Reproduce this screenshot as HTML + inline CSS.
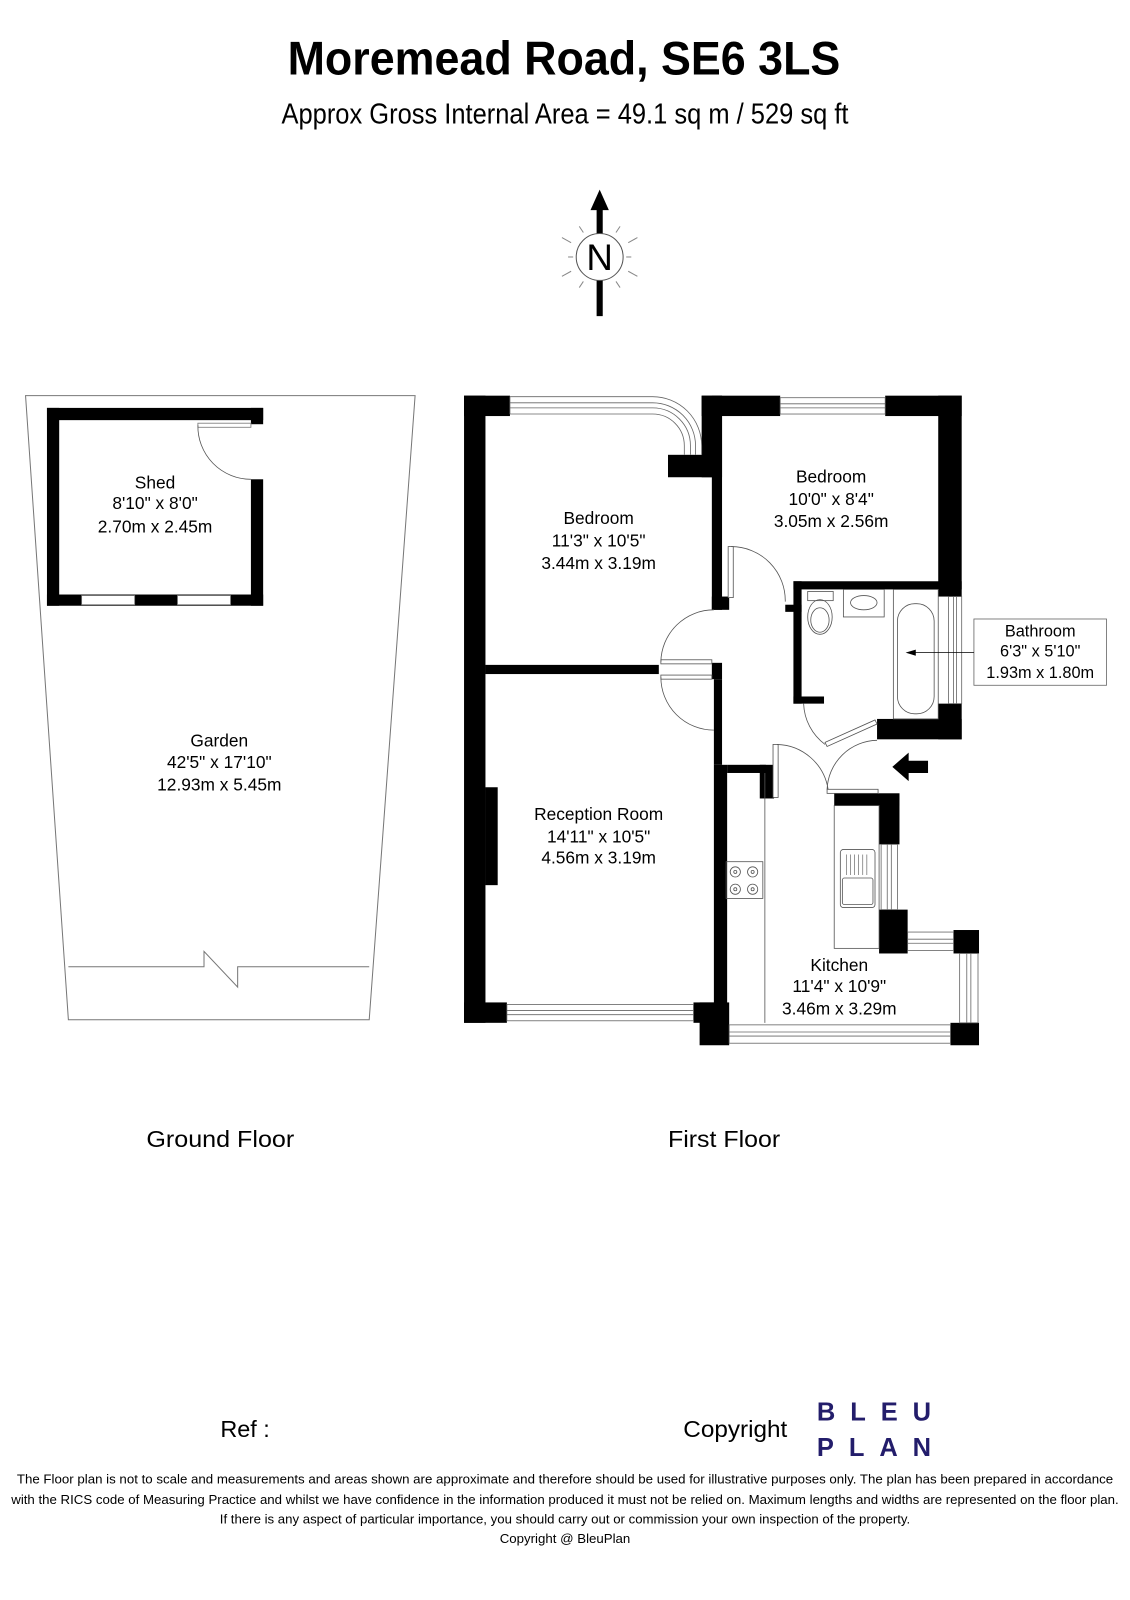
<!DOCTYPE html>
<html><head><meta charset="utf-8"><style>
html,body{margin:0;padding:0;background:#fff}
svg{display:block}
text{font-family:"Liberation Sans",Arial,sans-serif;fill:#000}
</style></head><body>
<svg width="1130" height="1600" viewBox="0 0 1108 1569" xmlns="http://www.w3.org/2000/svg">
<rect x="0" y="0" width="1108" height="1569" fill="#fff"/>
<text x="553" y="73" font-size="46" font-weight="bold" text-anchor="middle" textLength="542" lengthAdjust="spacingAndGlyphs">Moremead Road, SE6 3LS</text>
<text x="554" y="121" font-size="28" text-anchor="middle" textLength="556" lengthAdjust="spacingAndGlyphs">Approx Gross Internal Area = 49.1 sq m / 529 sq ft</text>

<!-- compass -->
<g>
<line x1="588" y1="205" x2="588" y2="232" stroke="#000" stroke-width="6"/>
<polygon points="588,186 579,206 597,206" fill="#000"/>
<line x1="588" y1="273" x2="588" y2="310" stroke="#000" stroke-width="6"/>
<circle cx="588" cy="252" r="23" fill="#fff" stroke="#555" stroke-width="1"/>
<g stroke="#888" stroke-width="1">
<line x1="557" y1="252" x2="562" y2="252"/><line x1="614" y1="252" x2="619" y2="252"/>
<line x1="560" y1="238" x2="551" y2="233"/><line x1="616" y1="238" x2="625" y2="233"/>
<line x1="560" y1="266" x2="551" y2="271"/><line x1="616" y1="266" x2="625" y2="271"/>
<line x1="572" y1="228" x2="568" y2="222"/><line x1="604" y1="228" x2="608" y2="222"/>
<line x1="572" y1="276" x2="568" y2="282"/><line x1="604" y1="276" x2="608" y2="282"/>
</g>
<text x="588" y="265" font-size="36" text-anchor="middle">N</text>
</g>

<!-- Garden -->
<polygon points="25,388 407,388 362,1000 67,1000" fill="none" stroke="#777" stroke-width="1"/>
<polyline points="67,948 200,948 200,933 233,968 233,948 362,948" fill="none" stroke="#777" stroke-width="1"/>
<!-- Shed -->
<g fill="#000">
<rect x="46" y="400" width="212" height="12"/>
<rect x="46" y="400" width="12" height="194"/>
<rect x="46" y="583" width="212" height="11"/>
<rect x="246" y="400" width="12" height="16"/>
<rect x="246" y="470" width="12" height="124"/>
</g>
<g fill="#fff" stroke="#777" stroke-width="0.8">
<rect x="80" y="584" width="52" height="9"/>
<rect x="174" y="584" width="52" height="9"/>
<rect x="194" y="415" width="52" height="4"/>
</g>
<path d="M194,417 A52,52 0 0 0 246,470" fill="none" stroke="#555" stroke-width="0.8"/>
<text x="152" y="479" font-size="17" text-anchor="middle">Shed</text>
<text x="152" y="499" font-size="17" text-anchor="middle">8'10" x 8'0"</text>
<text x="152" y="522" font-size="17" text-anchor="middle">2.70m x 2.45m</text>
<text x="215" y="732" font-size="17" text-anchor="middle">Garden</text>
<text x="215" y="753" font-size="17" text-anchor="middle">42'5" x 17'10"</text>
<text x="215" y="775" font-size="17" text-anchor="middle">12.93m x 5.45m</text>

<!-- First floor walls -->
<g fill="#000">
<rect x="455" y="388" width="21" height="615"/>
<rect x="455" y="388" width="45" height="20"/>
<rect x="655" y="446" width="45" height="22"/>
<rect x="688" y="388" width="77" height="20"/>
<rect x="688" y="388" width="20" height="80"/>
<rect x="698" y="388" width="10" height="210"/>
<rect x="698" y="585" width="17" height="13"/>
<rect x="868" y="388" width="75" height="20"/>
<rect x="920" y="388" width="23" height="197"/>
<rect x="778" y="570" width="165" height="8"/>
<rect x="778" y="570" width="8" height="120"/>
<rect x="770" y="593" width="16" height="7"/>
<rect x="778" y="683" width="30" height="7"/>
<rect x="920" y="690" width="23" height="35"/>
<rect x="860" y="705" width="83" height="20"/>
<rect x="476" y="652" width="170" height="9"/>
<rect x="698" y="650" width="10" height="16"/>
<rect x="700" y="666" width="8" height="84"/>
<rect x="700" y="750" width="13" height="253"/>
<rect x="713" y="750" width="38" height="8"/>
<rect x="745" y="750" width="14" height="33"/>
<rect x="476" y="772" width="12" height="96"/>
<rect x="455" y="983" width="42" height="20"/>
<rect x="680" y="983" width="28" height="20"/>
<rect x="686" y="983" width="29" height="42"/>
<rect x="932" y="1003" width="28" height="22"/>
<rect x="818" y="778" width="64" height="12"/>
<rect x="862" y="778" width="20" height="50"/>
<rect x="862" y="892" width="28" height="43"/>
<rect x="935" y="912" width="25" height="23"/>
</g>
<!-- windows -->
<g fill="#fff" stroke="#666" stroke-width="0.8">
<rect x="765" y="390" width="103" height="16"/>
<rect x="497" y="985" width="183" height="16"/>
<rect x="715" y="1005" width="217" height="18"/>
<rect x="930" y="585" width="13" height="105"/>
<rect x="864" y="828" width="16" height="64"/>
<rect x="890" y="914" width="45" height="18"/>
<rect x="941" y="935" width="18" height="68"/>
</g>
<g stroke="#666" stroke-width="0.8" fill="none">
<line x1="765" y1="396" x2="868" y2="396"/><line x1="765" y1="400" x2="868" y2="400"/>
<line x1="497" y1="991" x2="680" y2="991"/><line x1="497" y1="995" x2="680" y2="995"/>
<line x1="715" y1="1012" x2="932" y2="1012"/><line x1="715" y1="1016" x2="932" y2="1016"/>
<line x1="935" y1="585" x2="935" y2="690"/><line x1="938" y1="585" x2="938" y2="690"/>
<line x1="870" y1="828" x2="870" y2="892"/><line x1="874" y1="828" x2="874" y2="892"/>
<line x1="890" y1="921" x2="935" y2="921"/><line x1="890" y1="925" x2="935" y2="925"/>
<line x1="948" y1="935" x2="948" y2="1003"/><line x1="952" y1="935" x2="952" y2="1003"/>
<path d="M500,389 H640 A48,48 0 0 1 688,437 V446"/>
<path d="M500,395 H640 A42,42 0 0 1 682,437 V446"/>
<path d="M500,400 H640 A37,37 0 0 1 677,437 V446"/>
<path d="M500,406 H640 A31,31 0 0 1 671,437 V446"/>
<line x1="500" y1="389" x2="500" y2="406"/>
</g>
<!-- doors -->
<g fill="#fff" stroke="#555" stroke-width="0.8">
<rect x="648" y="647" width="50" height="4"/>
<rect x="648" y="662" width="50" height="4"/>
<rect x="714" y="536" width="5" height="50"/>
<rect x="758" y="730" width="5" height="52"/>
<polygon points="809,728 858,706 860,710 811,732"/>
<rect x="811" y="774" width="50" height="4"/>
</g>
<g fill="none" stroke="#555" stroke-width="0.8">
<path d="M648,649 A52,52 0 0 1 700,598"/>
<path d="M648,664 A52,52 0 0 0 700,716"/>
<path d="M717,536 A53,53 0 0 1 770,590"/>
<path d="M762,730 A52,52 0 0 1 812,774"/>
<path d="M811,774 A50,50 0 0 1 860,726"/>
<path d="M809,730 A52,52 0 0 1 788,690"/>
</g>
<polygon points="875,752 891,738 891,746 910,746 910,758 891,758 891,766" fill="#000"/>
<!-- bathroom fixtures -->
<g fill="none" stroke="#555" stroke-width="0.8">
<rect x="876" y="578" width="44" height="127"/>
<rect x="880" y="592" width="36" height="108" rx="17"/>
<rect x="827" y="578" width="40" height="27"/>
<ellipse cx="847" cy="591" rx="13" ry="7"/>
<rect x="792" y="580" width="25" height="9"/>
<ellipse cx="804" cy="605" rx="12" ry="17"/>
<ellipse cx="804" cy="608" rx="9" ry="12"/>
<line x1="750" y1="758" x2="750" y2="1003"/>
<rect x="818" y="790" width="44" height="140"/>
<rect x="824" y="833" width="34" height="57" rx="3"/>
<rect x="826" y="861" width="30" height="26" rx="2"/>
<rect x="712" y="845" width="36" height="36"/>
<circle cx="721" cy="855" r="5"/><circle cx="738" cy="855" r="5"/>
<circle cx="721" cy="872" r="5"/><circle cx="738" cy="872" r="5"/>
<circle cx="721" cy="855" r="1.5"/><circle cx="738" cy="855" r="1.5"/>
<circle cx="721" cy="872" r="1.5"/><circle cx="738" cy="872" r="1.5"/>
</g>
<g stroke="#555" stroke-width="0.6">
<line x1="830" y1="838" x2="830" y2="858"/><line x1="834" y1="838" x2="834" y2="858"/>
<line x1="838" y1="838" x2="838" y2="858"/><line x1="842" y1="838" x2="842" y2="858"/>
<line x1="846" y1="838" x2="846" y2="858"/><line x1="850" y1="838" x2="850" y2="858"/>
</g>
<rect x="955" y="607" width="130" height="65" fill="#fff" stroke="#666" stroke-width="0.8"/>
<line x1="896" y1="640" x2="955" y2="640" stroke="#000" stroke-width="0.8"/>
<polygon points="888,640 898,637 898,643" fill="#000"/>
<text x="1020" y="624" font-size="16" text-anchor="middle">Bathroom</text>
<text x="1020" y="644" font-size="16" text-anchor="middle">6'3" x 5'10"</text>
<text x="1020" y="665" font-size="16" text-anchor="middle">1.93m x 1.80m</text>

<g font-size="17" text-anchor="middle">
<text x="587" y="514">Bedroom</text>
<text x="587" y="536">11'3" x 10'5"</text>
<text x="587" y="558">3.44m x 3.19m</text>
<text x="815" y="473">Bedroom</text>
<text x="815" y="495">10'0" x 8'4"</text>
<text x="815" y="517">3.05m x 2.56m</text>
<text x="587" y="804">Reception Room</text>
<text x="587" y="826">14'11" x 10'5"</text>
<text x="587" y="847">4.56m x 3.19m</text>
<text x="823" y="952">Kitchen</text>
<text x="823" y="973">11'4" x 10'9"</text>
<text x="823" y="995">3.46m x 3.29m</text>
</g>

<text x="216" y="1125" font-size="23" text-anchor="middle" textLength="145" lengthAdjust="spacingAndGlyphs">Ground Floor</text>
<text x="710" y="1125" font-size="23" text-anchor="middle" textLength="110" lengthAdjust="spacingAndGlyphs">First Floor</text>

<text x="216" y="1409" font-size="23">Ref  :</text>
<text x="670" y="1409" font-size="23" textLength="102" lengthAdjust="spacingAndGlyphs">Copyright</text>
<g font-weight="bold" font-size="25">
<text x="801" y="1393" style="fill:#231d6b" textLength="112" lengthAdjust="spacing">BLEU</text>
<text x="801" y="1428" style="fill:#231d6b" textLength="112" lengthAdjust="spacing">PLAN</text>
</g>

<g font-size="13" text-anchor="middle">
<text x="554" y="1455" textLength="1075" lengthAdjust="spacingAndGlyphs">The Floor plan is not to scale and measurements and areas shown are approximate and therefore should be used for illustrative purposes only. The plan has been prepared in accordance</text>
<text x="554" y="1475" textLength="1086" lengthAdjust="spacingAndGlyphs">with the RICS code of Measuring Practice and whilst we have confidence in the information produced it must not be relied on. Maximum lengths and widths are represented on the floor plan.</text>
<text x="554" y="1494" textLength="677" lengthAdjust="spacingAndGlyphs">If there is any aspect of particular importance, you should carry out or commission your own inspection of the property.</text>
<text x="554" y="1513">Copyright @ BleuPlan</text>
</g>
</svg>
</body></html>
